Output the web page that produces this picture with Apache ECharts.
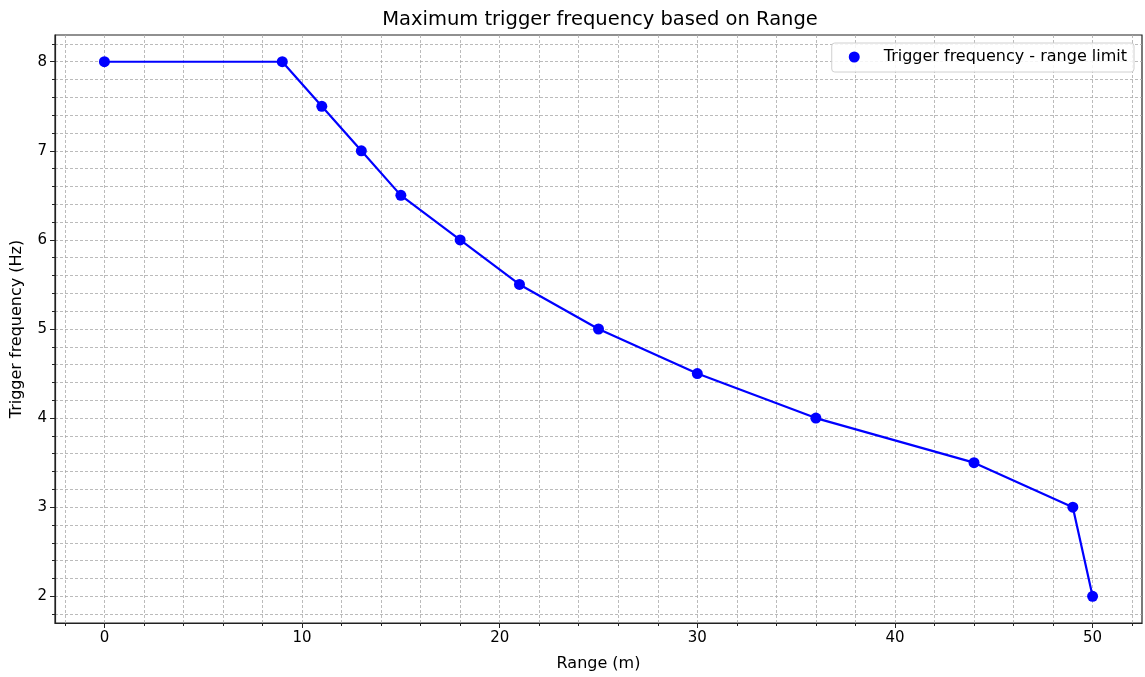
<!DOCTYPE html>
<html>
<head>
<meta charset="utf-8">
<script src="https://cdn.jsdelivr.net/npm/echarts@6/dist/echarts.min.js"></script>
<style>
  html, body { margin: 0; padding: 0; background: #fff; }
  #chart { width: 1145px; height: 677px; }
</style>
</head>
<body>
<div id="chart"></div>
<script>
// data
const rangeM = [0, 9, 11, 13, 15, 18, 21, 25, 30, 36, 44, 49, 50];
const freqHz = [8, 8, 7.5, 7, 6.5, 6, 5.5, 5, 4.5, 4, 3.5, 3, 2];

const xMajorTicks = [0, 10, 20, 30, 40, 50];
const xMinorTicks = [-2, 0, 2, 4, 6, 8, 10, 12, 14, 16, 18, 20, 22, 24, 26, 28, 30,
  32, 34, 36, 38, 40, 42, 44, 46, 48, 50, 52];
const yMajorTicks = [2, 3, 4, 5, 6, 7, 8];
const yMinorTicks = [1.8, 2, 2.2, 2.4, 2.6, 2.8, 3, 3.2, 3.4, 3.6, 3.8, 4, 4.2, 4.4,
  4.6, 4.8, 5, 5.2, 5.4, 5.6, 5.8, 6, 6.2, 6.4, 6.6, 6.8, 7, 7.2, 7.4, 7.6, 7.8, 8, 8.2];

const FONT = "DejaVu Sans";
const AXIS_COLOR = "#222";
const gridDash = { color: "#aaaaaa", width: 0.8, type: [3, 2] };

const chart = echarts.init(document.getElementById("chart"));

const data = rangeM.map(function(x, i) { return [x, freqHz[i]]; });

const option = {
  animation: false,
  textStyle: { fontFamily: FONT },
  title: {
    text: "Maximum trigger frequency based on Range",
    left: 595,
    textAlign: "center",
    top: 5,
    textStyle: { fontFamily: FONT, fontSize: 19.5, fontWeight: "normal", color: "#000" }
  },
  grid: {
    left: 55, right: 3, top: 35, bottom: 53,
    show: true,
    borderColor: AXIS_COLOR,
    borderWidth: 1.2,
    backgroundColor: "transparent"
  },
  legend: {
    right: 11, top: 43,
    data: [{ name: "Trigger frequency - range limit", icon: "circle" }],
    itemWidth: 11, itemHeight: 11,
    padding: [6, 7, 7, 17],
    backgroundColor: "rgba(255,255,255,0.85)",
    borderColor: "#d0d0d0",
    borderWidth: 1,
    borderRadius: 3,
    textStyle: { fontFamily: FONT, fontSize: 16, color: "#000", padding: [0, 0, 0, 19] }
  },
  xAxis: [
    {
      type: "value", min: -2.5, max: 52.5, position: "bottom",
      name: "Range (m)", nameLocation: "middle", nameGap: 33,
      nameTextStyle: { fontFamily: FONT, fontSize: 16, color: "#000" },
      axisLine: { show: true, onZero: false, lineStyle: { color: AXIS_COLOR, width: 1.2 } },
      axisTick: { show: true, length: 5, customValues: xMajorTicks, lineStyle: { color: AXIS_COLOR } },
      axisLabel: { show: true, customValues: xMajorTicks, margin: 8, fontFamily: FONT, fontSize: 15, color: "#000" },
      splitLine: { show: false }
    },
    {
      type: "value", min: -2.5, max: 52.5, position: "bottom",
      axisLine: { show: false, onZero: false },
      axisTick: { show: true, length: 3, customValues: xMinorTicks, lineStyle: { color: AXIS_COLOR } },
      axisLabel: { show: false },
      splitLine: { show: true, lineStyle: gridDash }
    }
  ],
  yAxis: [
    {
      type: "value", min: 1.7, max: 8.3, position: "left",
      name: "Trigger frequency (Hz)", nameLocation: "middle", nameGap: 30,
      nameTextStyle: { fontFamily: FONT, fontSize: 16, color: "#000" },
      axisLine: { show: true, onZero: false, lineStyle: { color: AXIS_COLOR, width: 1.2 } },
      axisTick: { show: true, length: 5, customValues: yMajorTicks, lineStyle: { color: AXIS_COLOR } },
      axisLabel: { show: true, customValues: yMajorTicks, margin: 8, fontFamily: FONT, fontSize: 15, color: "#000" },
      splitLine: { show: false }
    },
    {
      type: "value", min: 1.7, max: 8.3, position: "left",
      axisLine: { show: false, onZero: false },
      axisTick: { show: true, length: 3, customValues: yMinorTicks, lineStyle: { color: AXIS_COLOR } },
      axisLabel: { show: false },
      splitLine: { show: true, lineStyle: gridDash }
    }
  ],
  series: [
    {
      name: "Trigger frequency - range limit",
      type: "line",
      xAxisIndex: 0, yAxisIndex: 0,
      data: data,
      symbol: "circle",
      symbolSize: 11,
      color: "#0000ff",
      lineStyle: { color: "#0000ff", width: 2.2 },
      itemStyle: { color: "#0000ff" },
      z: 5
    }
  ]
};

chart.setOption(option);
</script>
</body>
</html>
